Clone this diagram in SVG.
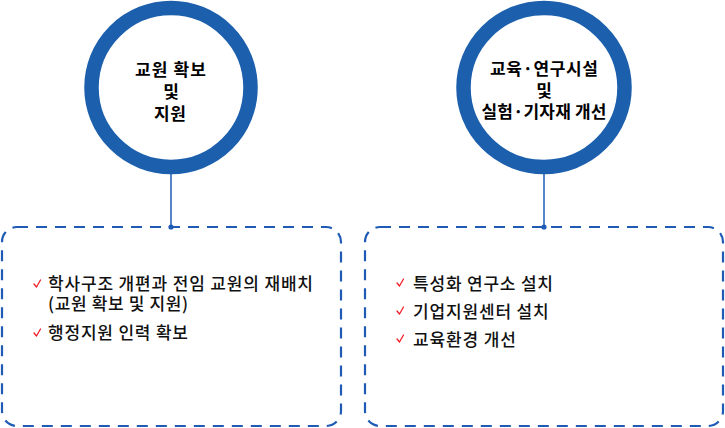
<svg xmlns="http://www.w3.org/2000/svg" width="725" height="428" viewBox="0 0 725 428">
<style>
.ring{fill:#fff;stroke:#1B5FAD;stroke-width:14.5}
.box{fill:none;stroke:#1F5BB5;stroke-width:2.2;stroke-dasharray:11 8}
.ct{font-family:"Noto Sans CJK KR","Noto Sans",sans-serif;font-weight:700;font-size:17px;fill:#000;text-anchor:middle}
.bt{font-family:"Noto Sans CJK KR","Noto Sans",sans-serif;font-weight:500;font-size:17px;fill:#111}
.ck{fill:none;stroke:#F0141E;stroke-width:1.2;stroke-linecap:round;stroke-linejoin:round}
.cn{stroke:#1F5BB5;stroke-width:1.5;fill:none}
.dot{fill:#1F5BB5}
</style>
<g id="connectors">
<line class="cn" x1="171" y1="172" x2="171" y2="227"/>
<circle class="dot" cx="171" cy="227" r="2.6"/>
<line class="cn" x1="544" y1="172" x2="544" y2="227"/>
<circle class="dot" cx="544" cy="227" r="2.6"/>
</g>
<g id="circle-left">
<circle class="ring" cx="171" cy="87.5" r="79.5"/>
<text class="ct" x="170.5" y="76" textLength="71" lengthAdjust="spacing">교원 확보</text>
<text class="ct" x="171" y="98">및</text>
<text class="ct" x="170" y="120" textLength="32" lengthAdjust="spacing">지원</text>
</g>
<g id="circle-right">
<ellipse class="ring" cx="544" cy="87.5" rx="80.5" ry="79.5"/>
<text class="ct" x="544" y="75" textLength="108" lengthAdjust="spacing">교육·연구시설</text>
<text class="ct" x="544" y="96.5">및</text>
<text class="ct" x="544" y="118" textLength="125" lengthAdjust="spacing">실험·기자재 개선</text>
</g>
<g id="box-left">
<rect class="box" x="2" y="227" width="339" height="199" rx="15"/>
<polyline class="ck" points="34,284 36.5,287 40.5,280"/>
<text class="bt" x="48" y="290" textLength="265" lengthAdjust="spacing">학사구조 개편과 전임 교원의 재배치</text>
<text class="bt" x="48" y="310" textLength="140" lengthAdjust="spacing">(교원 확보 및 지원)</text>
<polyline class="ck" points="34,333 36.5,336 40.5,329"/>
<text class="bt" x="48" y="339" textLength="140" lengthAdjust="spacing">행정지원 인력 확보</text>
</g>
<g id="box-right">
<rect class="box" x="365" y="227" width="358" height="199" rx="15"/>
<polyline class="ck" points="397,283 399.5,286 403.5,279"/>
<text class="bt" x="413" y="290" textLength="140" lengthAdjust="spacing">특성화 연구소 설치</text>
<polyline class="ck" points="397,311 399.5,314 403.5,307"/>
<text class="bt" x="413" y="318" textLength="135.7" lengthAdjust="spacing">기업지원센터 설치</text>
<polyline class="ck" points="397,339 399.5,342 403.5,335"/>
<text class="bt" x="413" y="346" textLength="103" lengthAdjust="spacing">교육환경 개선</text>
</g>
</svg>
